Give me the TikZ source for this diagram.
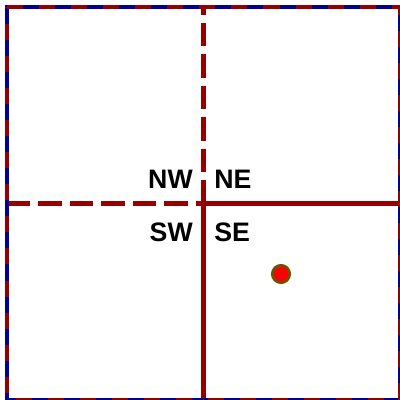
\documentclass[tikz,border=0pt]{standalone}
\usepackage{fontspec}
\setmainfont{Liberation Sans}
\usetikzlibrary{positioning}
\definecolor{rojo}{RGB}{150,0,0}
\definecolor{azul}{RGB}{0,0,150}
\definecolor{borde}{RGB}{105,85,0}

\begin{document}
\begin{tikzpicture}[
        x=0.025cm, y=-0.025cm,
        marco/.style={line width=3pt},
        eje/.style={draw=rojo, line width=2.9pt},
        guion/.style={eje, dash pattern=on 16.7pt off 5.7pt},
        etiqueta/.style={font=\bfseries\fontsize{19}{19}\selectfont, inner sep=0pt},
        punto/.style={circle, fill=red, draw=borde, line width=1.8pt, minimum size=12.5pt, inner sep=0pt}
    ]
        \useasboundingbox (0,0) rectangle (400,400);

        % esquinas y centro
        \coordinate (tl) at (7,7);
        \coordinate (tr) at (400,7);
        \coordinate (br) at (400,400);
        \coordinate (bl) at (7,400);
        \coordinate (c) at (203.5,203.5);
        \coordinate (top) at (203.5,7);
        \coordinate (bot) at (203.5,400);
        \coordinate (left) at (7,203.5);
        \coordinate (right) at (400,203.5);

        % divisiones
        \draw[guion] (c) -- (top);
        \draw[eje] (c) -- (bot);
        \draw[guion] (left) -- (c);
        \draw[eje] (c) -- (right);

        % marco exterior
        \draw[marco, azul] (tl) -- (tr) -- (br) -- (bl) -- cycle;
        \draw[marco, rojo, dash pattern=on 11.4pt off 11.4pt] (tl) -- (tr) -- (br) -- (bl) -- cycle;

        % cuadrantes
        \node[etiqueta, anchor=base east] (nw) at (193,188) {NW};
        \node[etiqueta, right=0.525cm of nw] (ne) {NE};
        \node[etiqueta, anchor=north east] (sw) at ([yshift=-0.85cm]nw.south east) {SW};
        \node[etiqueta, anchor=north west] (se) at ([yshift=-0.85cm]ne.south west) {SE};

        \node[punto] (p) at (281,274) {};
    \end{tikzpicture}
\end{document}
